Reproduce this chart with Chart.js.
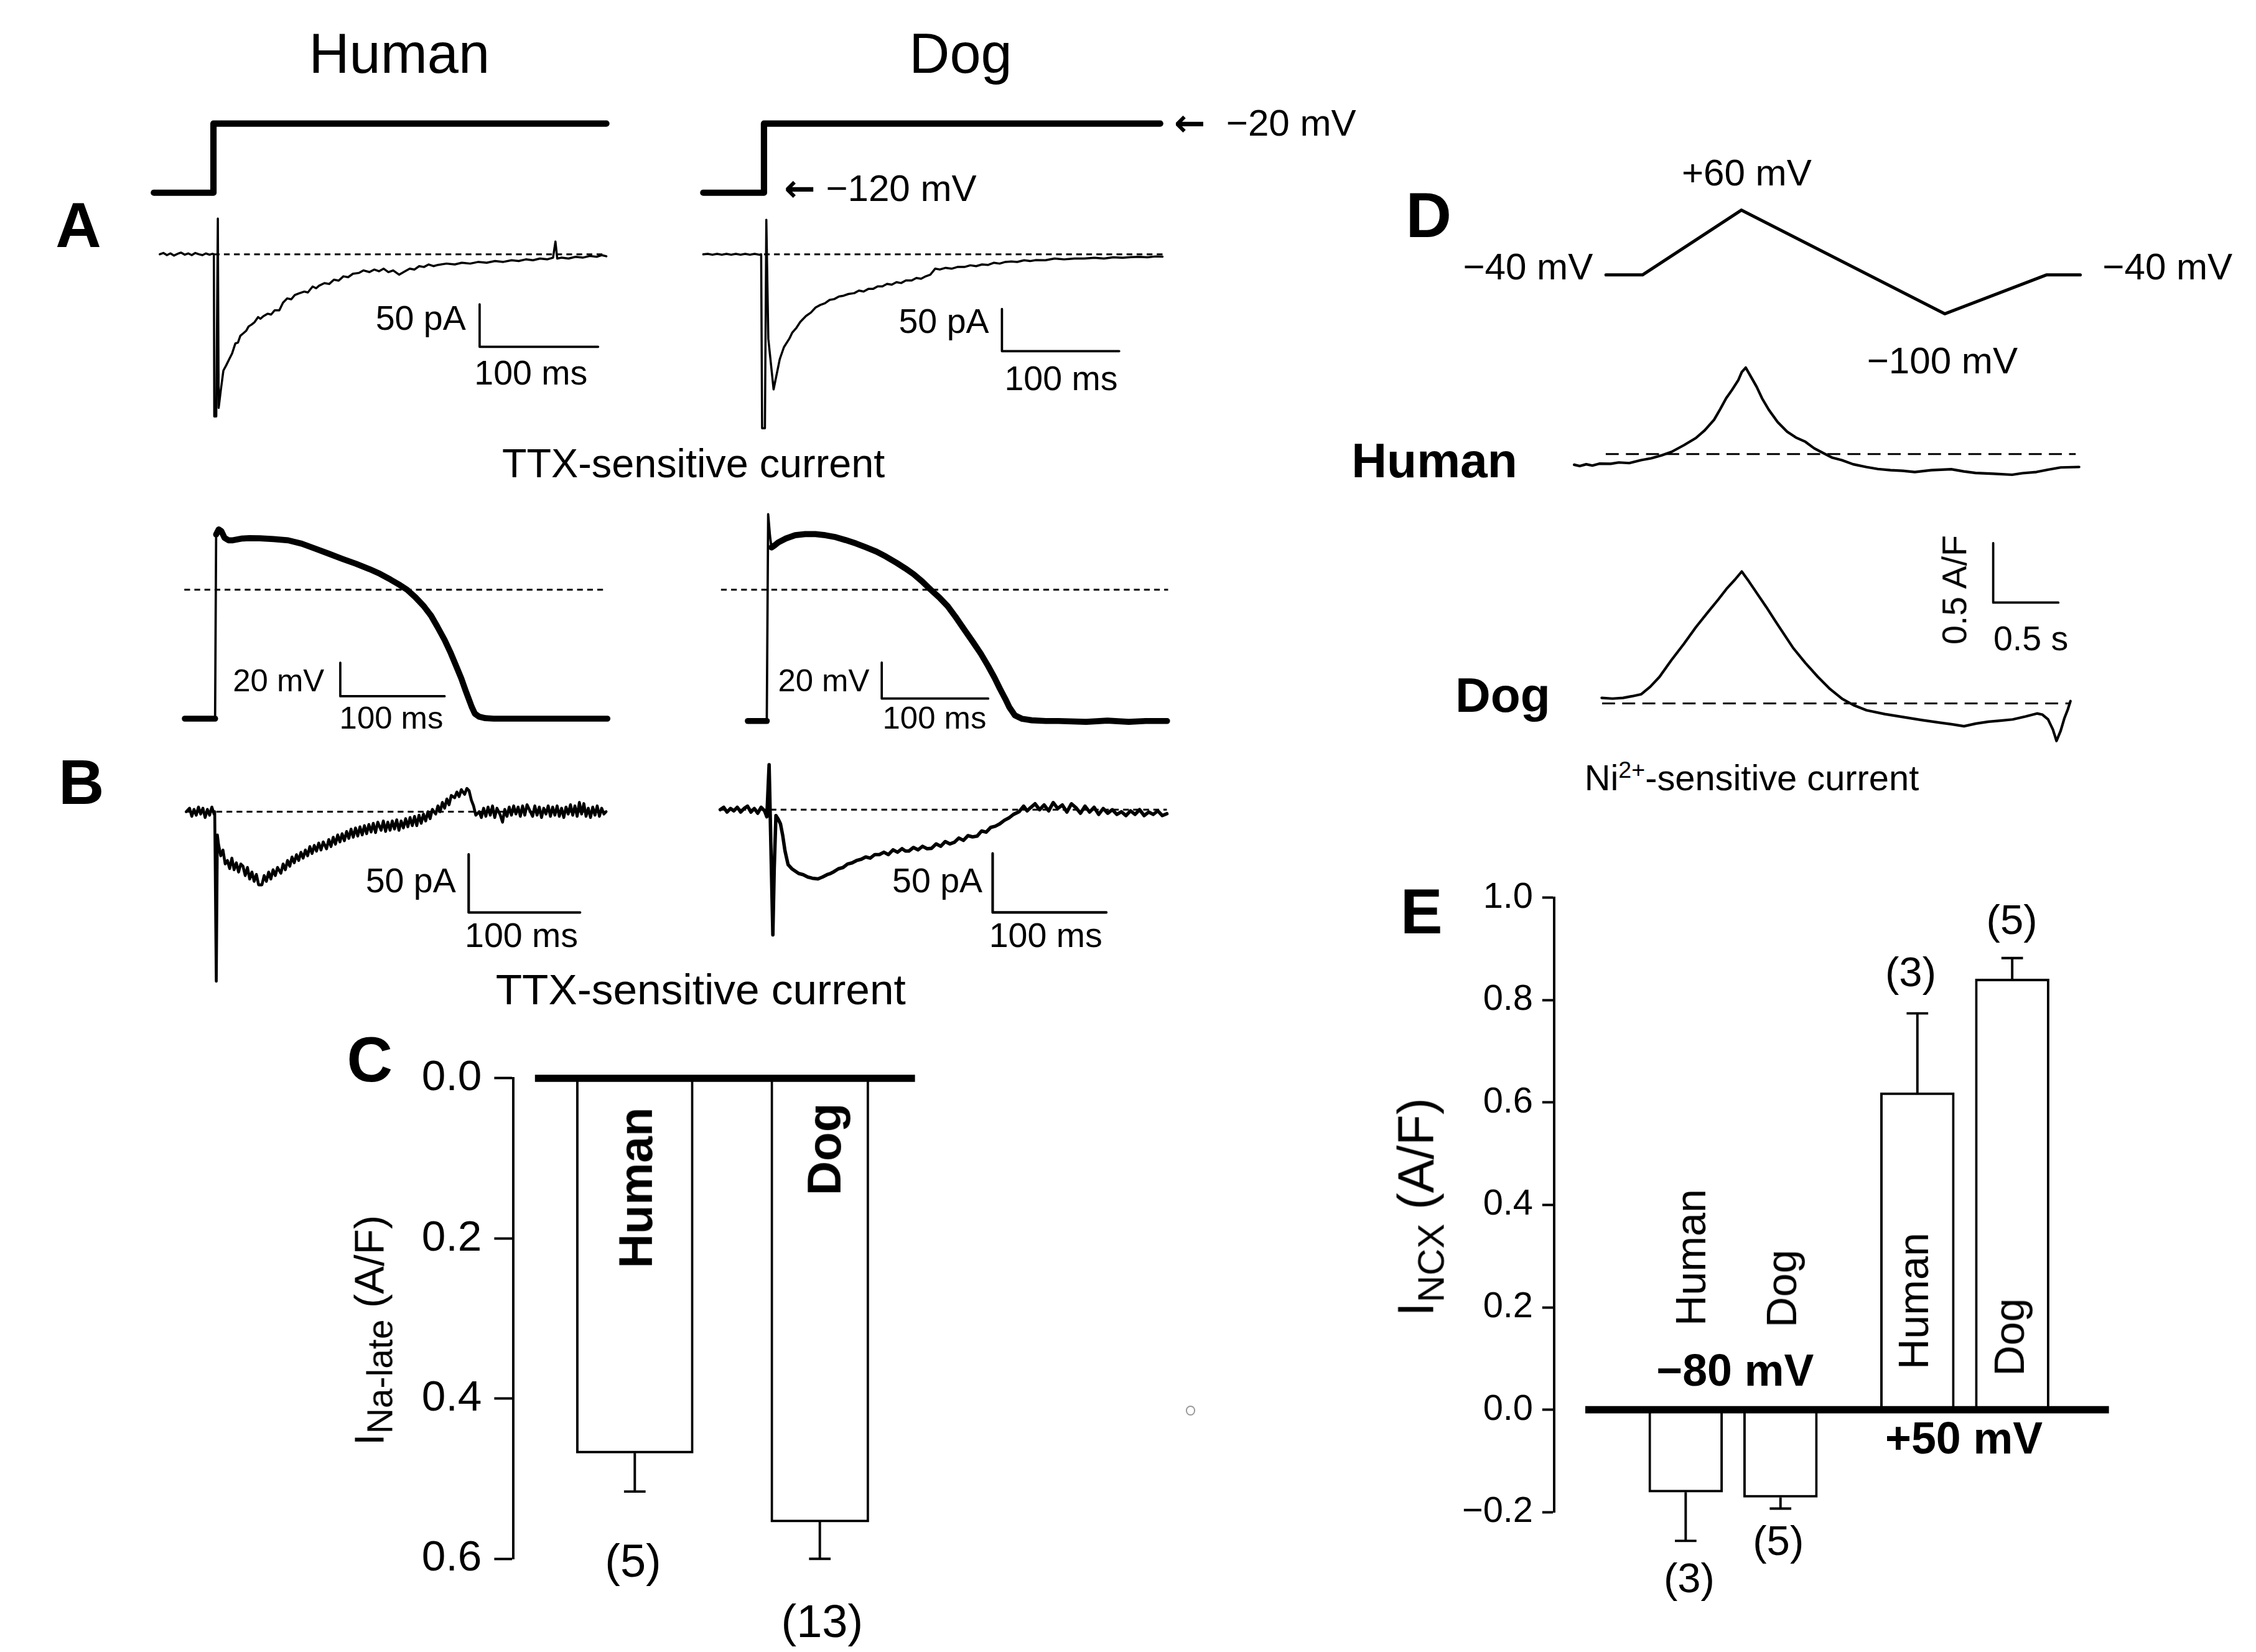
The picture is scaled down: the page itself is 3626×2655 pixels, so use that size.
<!DOCTYPE html>
<html>
<head>
<meta charset="utf-8">
<script src="https://cdn.jsdelivr.net/npm/chart.js@4.4.1/dist/chart.umd.min.js"></script>
<style>
html, body { margin: 0; padding: 0; background: #fff; }
#fig { position: relative; width: 3626px; height: 2655px; overflow: hidden; background: #fff; }
#fig canvas { position: absolute; }
.t { position: absolute; white-space: nowrap; line-height: 1; color: #000; transform: translate(-50%, -50%); font-family: 'Liberation Sans', Arial, sans-serif; }
.t sub, .t sup { line-height: 0; }
.arr { font-family: 'DejaVu Sans', sans-serif; font-weight: bold; }
</style>
</head>
<body>
<div id="fig"></div>
<script>
// ---- data ----
// A: voltage steps (ms, mV) and peak Na current (ms, pA)
const humanStepProtocol = [[-52, -120], [-1.7, -120], [-1.7, -20], [330, -20]];
const dogStepProtocol = [[-51.8, -120], [0, -120], [0, -20], [338, -20]];

const humanPeakCurrent = [[-47,0],[-44,1.5],[-41,-1],[-38,1],[-35,-1.5],[-32,0.5],[-29,2],[-26,-0.5],[-23,1],[-20,-1],[-17,1.5],[-14,0],[-11,-1],[-8,1],[-5,-0.5],[-2.5,0.5],
  [-1.35,0],[-1.0,-191],[0.67,-191],[2.0,42],[2.7,-181],
  [4.5,-160],[6.7,-137],[9,-131],[11.8,-123],[14,-117],[16.8,-105],[19,-104],[21,-96],[23.6,-93],[26,-90],[28,-85],[30.3,-83],[33,-80],[36,-74],[38,-76],[40.4,-73],[44,-70],[47,-71],[50,-66],[53.9,-66],[57,-57],[60.6,-52],[64,-53],[67,-48],[70.7,-46],[75,-44],[78,-45],[82,-38],[85,-40],[87.5,-37],[92,-34],[96,-35],[100,-30],[104,-31],[108,-26],[112,-27],[116,-23],[121,-22],[125,-19],[130,-21],[134,-18],[138,-20],[142,-17],[146,-21],[150,-19],[155,-24],[160,-20],[164,-17],[168,-18],[172,-14],[176,-15],[180,-12],[184,-14],[188,-12.5],[195,-11],[202,-12],[208,-10],[215,-11],[222,-9],[229,-10],[236,-8],[243,-9],[250,-7],[256,-8],[262,-6],[268,-7],[274,-5],[280,-6],[285,-4],[287,15],[288.5,-5],[292,-4],[298,-5],[304,-3],[310,-4],[316,-2],[322,-3],[326,-1],[330,-2.4]];

const dogPeakCurrent = [[-51.8,0],[-48,0.5],[-44,-0.5],[-40,0.5],[-36,-0.5],[-32,0.5],[-28,-0.5],[-24,0.5],[-20,-0.5],[-16,0.5],[-12,-0.5],[-8,0.5],[-4,-0.5],[-2.4,0],
  [-1.6,-206],[0.8,-206],[2.0,41],[3.7,-100],[8.2,-160],[13.5,-124],[17,-110],[21.6,-100],[24,-93],[27.7,-87],[31,-80],[35.9,-73],[40,-69],[44,-63],[48,-60],[52,-58],[56,-54],[60,-53],[64,-50],[68,-49],[72,-47],[77,-46],[81,-43],[85,-44],[89,-41],[93,-41],[97,-38],[101,-38],[105,-35],[109,-36],[113,-33],[117,-34],[121,-31],[126,-31],[130,-28],[134,-29],[138,-26],[142,-24],[146,-17],[150,-18],[155,-16],[160,-17],[165,-15],[171,-15],[176,-13],[181,-14],[186,-12],[191,-12.6],[196,-10],[201,-11],[206,-9],[211,-8.5],[216,-9],[222,-7],[227,-8],[232,-6.8],[240,-7],[248,-5],[256,-6],[265,-5],[273,-5],[282,-4],[290,-5],[298,-3.5],[306,-4],[313,-3.4],[320,-3],[327,-3.5],[334,-2.5],[340,-2.7]];

// action potentials (ms, mV)
const humanAP = [[-30,-77],[-3,-77],[-1,-77],[0,33],[2.5,36],[5,35],[8,31],[12,29.5],[16,29.5],[24,30.5],[32,30.8],[42,30.7],[55,30.2],[69,29.5],[82,27.5],[95,24.5],[108,21.5],[121,18.4],[134,15.5],[147,12.3],[157,9.5],[167,6.1],[175,3.2],[183,0],[191,-4.5],[199,-9.8],[206,-15.5],[212,-22],[219,-30],[225,-38],[230,-45.5],[235,-53],[239,-60],[242,-65],[245,-70],[248,-74],[252,-75.8],[258,-76.7],[266,-77],[274,-77],[300,-77],[340,-77],[375,-77]];
const dogAP = [[-17.8,-73],[-2,-73],[0,-73],[1.3,42],[3,30],[4.4,23.5],[7,24.5],[10.8,26.3],[18,28.5],[26.7,30.3],[36,30.9],[45.7,30.9],[55,30.3],[64.8,29.2],[74,27.6],[83.8,25.7],[93,23.6],[103,21.2],[112,18.4],[122,14.9],[130,11.9],[138,8.6],[146,4.6],[154,0],[162,-4.3],[170,-9.2],[177,-14.8],[185,-21.7],[193,-28.5],[201,-35.5],[208,-42.5],[214,-49],[219,-55],[224,-60.6],[228,-65.5],[233,-69.8],[240,-71.8],[249,-72.6],[262,-73],[274,-73],[300,-73.5],[320,-72.8],[340,-73.5],[356,-73],[376,-73]];

// B: TTX-sensitive current during the AP clamp (ms, pA)
const humanLateCurrent = [[-27,0],[-24,3],[-22,-4],[-20,2],[-18,-3],[-16,4],[-14,-2],[-12,3],[-10,-5],[-8,2],[-6,-3],[-4,4],[-2,-2],[-1.4,0],[0,-146],[1,-20],[2,-28],[4,-38],[6,-33],[8,-45],[10,-42],[12,-49],[14,-40],[16,-50],[18,-44],[20,-52],[22,-45],[24,-47],[26,-55],[28,-48],[30,-58],[32,-52],[34,-60],[36,-54],[38,-63],[41,-63],[43,-55],[45,-60],[47,-52],[49,-58],[51,-50],[53,-55],[55,-48],[58,-53],[60,-45],[62,-50],[64,-42],[66,-47],[68,-39],[70,-44],[72,-37],[74,-42],[76,-35],[78,-40],[80,-33],[82,-38],[84,-30],[86,-36],[88,-29],[90,-34],[92,-27],[94,-33],[96,-26],[99,-32],[101,-24],[103,-30],[105,-22],[107,-28],[109,-20],[111,-26],[113,-19],[115,-25],[117,-17],[119,-23],[121,-15],[123,-22],[125,-14],[127,-21],[129,-13],[131,-20],[133,-12],[135,-19],[137,-11],[139,-17.5],[141,-10],[143,-18],[145,-9],[148,-16],[150,-8],[152,-17],[154,-9],[156,-16],[158,-8],[160,-15],[162,-7],[164,-16],[166,-8],[168,-14],[170,-6],[172,-13],[174,-5],[176,-12],[178,-4],[180,-12],[182,-3],[184,-10],[186,-2],[188,-8],[190,0],[192,-6],[194,2],[197,-2],[199,5],[201,0],[203,8],[205,3],[207,11],[209,6],[211,14],[214,12],[216,17],[218,13],[220,19],[223,15],[225,20],[227,18],[229,10],[231,5],[233,-3],[236,0],[238,-5],[240,3],[242,-4],[244,4],[246,-3],[248,5],[250,-5],[252,3],[255,-3],[257,-9],[259,2],[261,-4],[263,4],[265,-3],[267,5],[269,-2],[271,4],[273,-4],[275,5],[277,-3],[279,6],[282,0],[284,-4],[286,5],[288,-3],[290,4],[292,-5],[294,3],[296,-2],[298,5],[300,-4],[302,4],[304,-3],[306,5],[308,-4],[310,3],[312,-5],[314,4],[316,-2],[318,6],[320,-3],[322,5],[324,-4],[326,8],[328,-2],[330,7],[332,-4],[334,3],[336,-5],[338,4],[340,-3],[342,5],[344,-4],[346,3],[348,-2],[350,0]];
const dogLateCurrent = [[-45,0],[-42,2],[-39,-2],[-36,1],[-33,-1],[-30,2],[-27,-2],[-24,1],[-21,3],[-18,-2],[-15,1],[-12,-3],[-9,2],[-6,-1],[-4,-6],[-2,38],[1.3,-106],[2.5,-50],[4,-5],[6,-8],[8,-12],[10,-22],[12,-35],[14.7,-46.5],[18,-50],[21,-52],[24,-54],[28,-55],[32,-57],[36,-58],[41,-58.6],[45,-57],[49,-55],[52,-54],[55,-52.5],[59,-50],[63,-49],[67,-46],[71,-45],[75,-43],[79,-42],[83,-40],[87,-41],[91,-38],[95,-38],[99,-36],[103,-38],[107,-34],[111,-36],[115,-33],[118,-35],[121,-35],[125,-32],[129,-34],[133,-31],[137,-33],[141,-32.7],[145,-29],[149,-31],[153,-27],[157,-29],[161,-27.6],[165,-24],[169,-26],[173,-22],[177,-23],[181,-22.4],[185,-18],[189,-19],[193,-15],[197,-14],[201,-12],[205,-9],[209,-7],[213,-4],[218,-1.7],[222,3],[225,-1],[228,1.7],[232,5],[236,0],[240,4],[244,-1],[248,6],[252,1],[256,4],[260,-2],[264,5],[268,1.7],[272,-3],[276,3],[280,-2],[284,2],[288,-4],[292,1],[296,-3],[300,0],[304,-4],[308,-1.7],[312,-5],[316,-1],[320,-4],[324,0],[328,-5],[332,-2],[336,-4],[340,-1],[344,-5],[348,-3.4]];

// D: ramp protocol (s, mV) and Ni2+-sensitive current (s, A/F)
const rampProtocol = [[0,-40],[0.28,-40],[1.04,60],[2.6,-100],[3.38,-40],[3.64,-40]];
const humanNcxTrace = [[-0.243,-0.089],[-0.2,-0.1],[-0.15,-0.085],[-0.103,-0.096],[-0.05,-0.08],[0.037,-0.081],[0.1,-0.07],[0.18,-0.075],[0.271,-0.05],[0.35,-0.035],[0.43,-0.01],[0.505,0.019],[0.6,0.075],[0.692,0.135],[0.76,0.2],[0.832,0.289],[0.88,0.38],[0.925,0.47],[0.97,0.54],[1.019,0.624],[1.045,0.69],[1.075,0.727],[1.11,0.66],[1.159,0.566],[1.2,0.47],[1.252,0.373],[1.32,0.27],[1.393,0.189],[1.46,0.14],[1.533,0.104],[1.6,0.05],[1.673,0.008],[1.74,-0.03],[1.813,-0.05],[1.9,-0.085],[2.0,-0.108],[2.09,-0.125],[2.187,-0.135],[2.28,-0.14],[2.374,-0.15],[2.5,-0.135],[2.654,-0.127],[2.75,-0.145],[2.841,-0.158],[2.98,-0.165],[3.121,-0.173],[3.2,-0.16],[3.308,-0.15],[3.4,-0.13],[3.495,-0.112],[3.636,-0.108]];
const dogNcxTrace = [[-0.033,0.046],[0.05,0.04],[0.131,0.046],[0.2,0.06],[0.271,0.077],[0.34,0.14],[0.411,0.223],[0.5,0.36],[0.598,0.5],[0.69,0.64],[0.785,0.77],[0.86,0.87],[0.925,0.962],[0.99,1.04],[1.042,1.108],[1.1,1.02],[1.159,0.924],[1.23,0.81],[1.299,0.693],[1.37,0.575],[1.439,0.462],[1.53,0.34],[1.626,0.223],[1.72,0.12],[1.813,0.038],[1.9,-0.015],[2.0,-0.058],[2.14,-0.09],[2.28,-0.115],[2.42,-0.14],[2.561,-0.162],[2.65,-0.175],[2.748,-0.192],[2.84,-0.17],[2.935,-0.154],[3.03,-0.145],[3.121,-0.135],[3.22,-0.11],[3.308,-0.085],[3.35,-0.095],[3.393,-0.135],[3.43,-0.22],[3.458,-0.316],[3.49,-0.23],[3.519,-0.123],[3.545,-0.05],[3.565,0.019]];

// scale bars, in each trace's own units
const humanPeakBar = [[223,-59],[223,-109],[323,-109]];
const dogPeakBar = [[203,-64.7],[203,-114.7],[303,-114.7]];
const humanApBar = [[119,-43.6],[119,-63.6],[219,-63.6]];
const dogApBar = [[108,-40.5],[108,-60.5],[208,-60.5]];
const humanLateBar = [[226.6,-36.8],[226.6,-86.8],[326.6,-86.8]];
const dogLateBar = [[194.7,-37],[194.7,-87],[294.7,-87]];
const ncxBar = [[2.972,1.347],[2.972,0.847],[3.472,0.847]];

// C: late Na current
const naLateSpecies = ['Human', 'Dog'];
const naLateMean = [0.468, 0.554];
const naLateSem = [0.048, 0.046];
const naLateN = [5, 13];
const naLateTicks = [0, 0.2, 0.4, 0.6];

// E: NCX current
const ncxVoltage = ['−80 mV', '−80 mV', '+50 mV', '+50 mV'];
const ncxSpecies = ['Human', 'Dog', 'Human', 'Dog'];
const ncxMean = [-0.161, -0.171, 0.619, 0.841];
const ncxSem = [0.095, 0.022, 0.155, 0.041];
const ncxN = [3, 5, 3, 5];
const ncxTicks = [-0.2, 0, 0.2, 0.4, 0.6, 0.8, 1.0];

// ---- drawing ----
const S = 3626 / 1568;   // layout is measured on a 1568 px wide copy
const FONT = "'Liberation Sans', Arial, sans-serif";
const fig = document.getElementById('fig');
Chart.defaults.font.family = FONT;
Chart.defaults.color = '#000';

function makeCanvas(box) {
    const c = document.createElement('canvas');
    const w = Math.round((box[2] - box[0]) * S), h = Math.round((box[3] - box[1]) * S);
    c.width = w; c.height = h;
    c.style.width = w + 'px'; c.style.height = h + 'px';
    c.style.left = (box[0] * S) + 'px'; c.style.top = (box[1] * S) + 'px';
    fig.appendChild(c);
    return c;
}

function line(points, width, opts = {}) {
    return {
        data: points.map(p => ({ x: p[0], y: p[1] })),
        showLine: true,
        borderColor: '#000',
        borderWidth: width * S,
        borderDash: (opts.dash || []).map(d => d * S),
        borderJoinStyle: 'round',
        borderCapStyle: opts.dash ? 'butt' : 'round',
        pointRadius: 0,
        tension: 0,
        fill: false,
        segment: opts.segment
    };
}

// box = [left, top, right, bottom]; origin = pixel of (0,0); k = pixels per unit
function traceChart(box, origin, k, datasets) {
    new Chart(makeCanvas(box), {
        type: 'scatter',
        data: { datasets },
        options: {
            responsive: false, animation: false, devicePixelRatio: 1, events: [],
            layout: { padding: 0 },
            plugins: { legend: { display: false }, tooltip: { enabled: false } },
            scales: {
                x: { type: 'linear', display: false, min: (box[0] - origin[0]) / k[0], max: (box[2] - origin[0]) / k[0] },
                y: { type: 'linear', display: false, min: (origin[1] - box[3]) / k[1], max: (origin[1] - box[1]) / k[1] }
            }
        }
    });
}

const apSegment = {
    borderWidth: c => Math.abs(c.p1.y - c.p0.y) > 4 * Math.abs(c.p1.x - c.p0.x) ? 1.6 * S : 4.2 * S
};
const fine = [4, 3];

// A
traceChart([95, 70, 430, 145], [149.6, 76.2], [0.823, 0.482], [line(humanStepProtocol, 4.4)]);
traceChart([475, 70, 815, 145], [531.2, 76.2], [0.815, 0.482], [line(dogStepProtocol, 4.4)]);
traceChart([95, 140, 430, 300], [149.6, 176.6], [0.823, 0.59], [
    line([[-1.35, 0], [330, 0]], 1.3, { dash: fine }),
    line(humanPeakCurrent, 1.5),
    line(humanPeakBar, 1.6)
]);
traceChart([475, 140, 815, 305], [531.2, 176.6], [0.815, 0.586], [
    line([[0, 0], [340, 0]], 1.3, { dash: fine }),
    line(dogPeakCurrent, 1.5),
    line(dogPeakBar, 1.6)
]);

// AP clamp
traceChart([120, 350, 430, 510], [150, 410], [0.725, 1.164], [
    line([[-30.5, 0], [374, 0]], 1.3, { dash: fine }),
    line(humanAP, 4.2, { segment: apSegment }),
    line(humanApBar, 1.6)
]);
traceChart([490, 350, 820, 510], [533, 410], [0.74, 1.25], [
    line([[-43, 0], [377, 0]], 1.3, { dash: fine }),
    line(dogAP, 4.2, { segment: apSegment }),
    line(dogApBar, 1.6)
]);

// B
traceChart([120, 525, 430, 690], [150.1, 564.1], [0.774, 0.806], [
    line([[-27, 0], [350, 0]], 1.3, { dash: fine }),
    line(humanLateCurrent, 2.0),
    line(humanLateBar, 1.8)
]);
traceChart([490, 525, 820, 690], [536.2, 562.7], [0.79, 0.82], [
    line([[-45, 0], [348, 0]], 1.3, { dash: fine }),
    line(dogLateCurrent, 2.4),
    line(dogLateBar, 1.8)
]);

// D
traceChart([1100, 130, 1460, 235], [1116.1, 172.85], [90.5, 0.45], [line(rampProtocol, 2.2)]);
traceChart([1085, 240, 1460, 340], [1116.1, 315.7], [90.5, 82.8], [
    line([[0, 0], [3.61, 0]], 1.3, { dash: [9, 5] }),
    line(humanNcxTrace, 1.8)
]);
traceChart([1100, 370, 1460, 525], [1116.1, 488.8], [90.5, 82.8], [
    line([[-0.03, 0], [3.565, 0]], 1.3, { dash: [9, 5] }),
    line(dogNcxTrace, 1.8),
    line(ncxBar, 1.6)
]);

// bar charts: error bars and thick zero line
const barExtras = {
    id: 'barExtras',
    afterDatasetsDraw(chart, args, o) {
        const ctx = chart.ctx, y = chart.scales.y, area = chart.chartArea;
        ctx.save();
        ctx.strokeStyle = '#000';
        ctx.lineWidth = o.errWidth;
        chart.data.datasets.forEach((ds, di) => {
            chart.getDatasetMeta(di).data.forEach((bar, j) => {
                const v = ds.data[j].y;
                const end = y.getPixelForValue(v + Math.sign(v) * ds.errors[j]);
                ctx.beginPath();
                ctx.moveTo(bar.x, bar.y); ctx.lineTo(bar.x, end);
                ctx.moveTo(bar.x - o.cap / 2, end); ctx.lineTo(bar.x + o.cap / 2, end);
                ctx.stroke();
            });
        });
        const y0 = y.getPixelForValue(0);
        ctx.lineWidth = o.zeroWidth;
        ctx.beginPath();
        ctx.moveTo(area.left + o.zeroStart, y0); ctx.lineTo(area.right, y0);
        ctx.stroke();
        ctx.restore();
    }
};

function barOptions(xr, yr, ticks, axisW, pad, tickFont, tickLen, tickPad, reverse, extras) {
    return {
        responsive: false, animation: false, devicePixelRatio: 1, events: [],
        layout: { padding: { top: pad[0] * S, right: pad[1] * S, bottom: pad[2] * S, left: 0 } },
        plugins: { legend: { display: false }, tooltip: { enabled: false }, barExtras: extras },
        scales: {
            x: { type: 'linear', display: false, offset: false, min: xr[0], max: xr[1] },
            y: {
                min: yr[0], max: yr[1], reverse,
                afterFit: s => { s.width = axisW * S; },
                afterBuildTicks: s => { s.ticks = ticks.map(v => ({ value: v })); },
                ticks: {
                    color: '#000', padding: tickPad * S, font: { family: FONT, size: tickFont * S },
                    callback: v => (v < -1e-9 ? '−' : '') + Math.abs(v).toFixed(1)
                },
                grid: { drawOnChartArea: false, drawTicks: true, tickLength: tickLen * S, tickWidth: 1.7 * S, tickColor: '#000', color: '#000' },
                border: { display: true, color: '#000', width: 1.7 * S }
            }
        }
    };
}

// C: axis at x=357, bars centred at 441.35 and 569.9, 128.55 px per category
const cWidths = [81.3, 68.2];
new Chart(makeCanvas([267, 720, 650, 1110]), {
    type: 'bar',
    data: {
        datasets: naLateSpecies.map((sp, i) => ({
            label: sp,
            data: [{ x: i, y: naLateMean[i] }],
            errors: [naLateSem[i]],
            backgroundColor: '#fff', borderColor: '#000', borderWidth: 1.7 * S, borderSkipped: false,
            barThickness: cWidths[i] * S, grouped: false
        }))
    },
    options: barOptions([(357 - 441.35) / 128.55, (636 - 441.35) / 128.55], [0, 0.6], naLateTicks,
        90, [29.4, 14, 20], 30, 13.3, 8.7, true,
        { errWidth: 1.7 * S, cap: 15 * S, zeroWidth: 5 * S, zeroStart: 15 * S }),
    plugins: [barExtras]
});

// E: axis at x=1080.4, first bar centred at 1171.8, 65.9 px per bar, wider gap between voltages
const groupGap = 0.444;
const ncxPos = ncxVoltage.map((v, i) => i + (v === ncxVoltage[0] ? 0 : groupGap));
new Chart(makeCanvas([1000.4, 600, 1480, 1075]), {
    type: 'bar',
    data: {
        datasets: [{
            data: ncxMean.map((m, i) => ({ x: ncxPos[i], y: m })),
            errors: ncxSem,
            backgroundColor: '#fff', borderColor: '#000', borderWidth: 1.7 * S, borderSkipped: false,
            barThickness: 51.4 * S
        }]
    },
    options: barOptions([(1080.4 - 1171.8) / 65.9, (1466 - 1171.8) / 65.9], [-0.2, 1.0], ncxTicks,
        80, [23.6, 14, 24.1], 25, 8.3, 6.4, false,
        { errWidth: 1.7 * S, cap: 15 * S, zeroWidth: 5 * S, zeroStart: 21.6 * S }),
    plugins: [barExtras]
});

// ---- text ----
function addText(html, cx, cy, size, o = {}) {
    const d = document.createElement('div');
    d.className = 't';
    d.innerHTML = html;
    d.style.left = (cx * S) + 'px';
    d.style.top = (cy * S) + 'px';
    d.style.fontSize = (size * S) + 'px';
    if (o.bold) d.style.fontWeight = 'bold';
    if (o.rot) d.style.transform = 'translate(-50%, -50%) rotate(-90deg)';
    if (o.left) d.style.transform = 'translate(0, -50%)';
    fig.appendChild(d);
}

addText('Human', 277.5, 37, 39);
addText('Dog', 667.7, 37, 39);
addText('A', 54.5, 157, 44, { bold: true });
addText('<span class="arr">←</span>&nbsp;&nbsp;−20 mV', 816, 85.5, 26, { left: true });
addText('<span class="arr">←</span>&nbsp;−120 mV', 545, 131, 26, { left: true });
addText('50 pA', 292.4, 221.6, 24);
addText('100 ms', 369, 259.5, 24);
addText('50 pA', 656, 223.6, 24);
addText('100 ms', 737.5, 263.5, 24);
addText('TTX-sensitive current', 482, 322, 28);

addText('20 mV', 193.6, 473, 22);
addText('100 ms', 272, 499, 22);
addText('20 mV', 572.5, 473, 22);
addText('100 ms', 649.5, 499, 22);

addText('B', 56.5, 544, 44, { bold: true });
addText('50 pA', 285.5, 612.2, 24);
addText('100 ms', 362.4, 650.3, 24);
addText('50 pA', 651.5, 612.2, 24);
addText('100 ms', 726.8, 650.3, 24);
addText('TTX-sensitive current', 487, 688, 30);

addText('C', 257, 737, 44, { bold: true });
addText('I<sub style="font-size:0.85em">Na-late</sub> (A/F)', 256.5, 924.5, 29, { rot: true });
addText(naLateSpecies[0], 441.8, 825.5, 33, { bold: true, rot: true });
addText(naLateSpecies[1], 573, 798.5, 33, { bold: true, rot: true });
addText('(' + naLateN[0] + ')', 440, 1085, 32);
addText('(' + naLateN[1] + ')', 571.4, 1127, 32);

addText('D', 993, 150, 44, { bold: true });
addText('+60 mV', 1214, 120, 26);
addText('−40 mV', 1062, 185.4, 26);
addText('−40 mV', 1506.5, 185.4, 26);
addText('−100 mV', 1350, 251, 26);
addText('Human', 997, 320, 34, { bold: true });
addText('Dog', 1044.5, 483, 34, { bold: true });
addText('0.5 A/F', 1358.5, 410, 24, { rot: true });
addText('0.5 s', 1411.5, 444, 24);
addText('Ni<sup style="font-size:0.65em">2+</sup>-sensitive current', 1217.5, 541, 25);

addText('E', 988, 634, 44, { bold: true });
addText('I<sub style="font-size:0.74em">NCX</sub> (A/F)', 984, 839, 35, { rot: true });
addText(ncxSpecies[0], 1175, 874, 29.5, { rot: true });
addText(ncxSpecies[1], 1238, 895.7, 29.5, { rot: true });
addText(ncxVoltage[0], 1206, 952.8, 31, { bold: true });
addText(ncxSpecies[2], 1329.8, 904.3, 29.5, { rot: true });
addText(ncxSpecies[3], 1396.5, 929.5, 29.5, { rot: true });
addText(ncxVoltage[2], 1365, 999.6, 31, { bold: true });
addText('(' + ncxN[2] + ')', 1328, 675.6, 29);
addText('(' + ncxN[3] + ')', 1398.3, 639.2, 29);
addText('(' + ncxN[0] + ')', 1174, 1096.6, 29);
addText('(' + ncxN[1] + ')', 1236, 1070.6, 29);

// small stray ring in the original scan
const ring = document.createElement('div');
ring.style.cssText = 'position:absolute;border:' + (1.2 * S) + 'px solid #999;border-radius:50%;width:' + (5 * S) + 'px;height:' + (5 * S) + 'px;left:' + (824 * S) + 'px;top:' + (977 * S) + 'px;';
fig.appendChild(ring);
</script>
</body>
</html>
